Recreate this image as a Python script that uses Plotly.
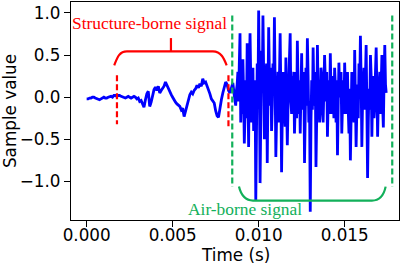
import numpy as np
import plotly.graph_objects as go

# ---- data ----
# structure-borne part, sampled at 12 kHz from t = 0
structure_rate = 12000
structure_samples = [
    -0.02, -0.02, -0.01, -0.01, 0.00, 0.00, -0.01, -0.02, -0.02, -0.03,
    -0.02, -0.01, 0.00, -0.01, -0.01, 0.00, 0.01, 0.01, 0.00, 0.02,
    0.02, 0.01, 0.02, 0.02, 0.01, 0.00, 0.00, -0.01, 0.00, 0.01,
    0.00, -0.01, 0.00, 0.01, 0.00, -0.02, -0.01, -0.05, -0.04, -0.09,
    -0.12, -0.03, 0.04, 0.07, -0.11, -0.06, 0.03, 0.09, 0.12, 0.08,
    0.13, 0.05, 0.08, 0.10, 0.13, 0.18, 0.14, 0.09, 0.05, 0.03,
    0.00, -0.04, -0.06, -0.08, -0.10, -0.11, -0.15, -0.13, -0.23, -0.17,
    -0.08, -0.02, 0.03, 0.06, 0.04, 0.08, 0.10, 0.14, 0.11, 0.16,
    0.13, 0.22, 0.17, 0.18, 0.14, 0.10, 0.04, -0.02, -0.05, -0.07,
    -0.16, -0.22, -0.24, -0.12, -0.03, 0.05, 0.12, 0.18, 0.15, 0.08,
    0.05, 0.13, 0.17,
]
# air-borne part, sampled at 24 kHz, starting right after the structure part
air_rate = 24000
air_start = 0.0085833
air_samples = [
    0.02, -0.06, -0.10, 0.08, 0.15, 0.30, -0.05, 0.40, 0.76, -0.30,
    0.10, -0.20, 0.45, 0.05, -0.55, -0.20, 0.20, -0.25, 0.64, 0.10,
    -0.59, 0.35, 0.76, 0.20, -0.30, 0.15, 0.35, -0.40, -0.15, 0.20,
    -1.23, -0.30, 0.40, -0.10, 1.03, 0.20, -1.02, -0.25, 0.55, 0.10,
    0.97, 0.30, -0.50, 0.05, 0.30, 0.40, -0.78, -0.15, 0.83, 0.25,
    -0.10, 0.35, -0.40, -0.10, 0.40, 0.10, 0.95, 0.15, -0.71, -0.25,
    0.10, 0.30, -0.30, 0.25, 0.76, 0.05, -0.89, -0.20, 0.30, 0.05,
    -0.20, -0.35, 0.47, 0.10, -0.57, -0.10, 0.20, 0.35, 0.76, -0.05,
    -0.20, 0.25, 0.10, 0.30, -0.43, -0.10, 0.30, -0.25, 0.67, 0.15,
    -0.20, 0.20, -0.43, 0.05, 0.52, -0.15, 0.05, 0.30, -0.78, -0.20,
    0.35, -0.10, 0.70, 0.25, -0.30, -0.05, -1.36, -0.30, 0.20, -0.15,
    0.59, 0.10, -0.10, 0.30, -0.83, -0.25, 0.62, 0.05, 0.15, -0.30,
    -0.10, 0.35, 0.25, -0.15, -0.30, 0.10, 0.50, 0.20, -0.05, 0.30,
    -0.47, -0.05, 0.20, -0.20, 0.52, 0.05, -0.20, 0.25, 0.10, -0.25,
    0.35, 0.15, -0.30, 0.20, -0.69, -0.10, 0.41, 0.05, 0.00, 0.30,
    -0.43, -0.10, 0.20, -0.20, 0.41, 0.10, -0.20, 0.25, 0.30, -0.15,
    -0.43, 0.10, -0.75, -0.25, 0.30, 0.05, -0.10, -0.30, 0.56, 0.10,
    -0.59, -0.15, 0.15, -0.25, 0.40, 0.10, 0.73, 0.20, -0.59, -0.05,
    0.20, 0.35, -0.15, 0.20, 0.62, -0.10, -0.96, -0.30, 0.10, -0.15,
    0.50, 0.25, -0.47, 0.05, 0.25, -0.25, -0.10, 0.30, 0.59, 0.10,
    -0.47, -0.05, 0.15, 0.30, -0.20, 0.10, 0.50, -0.10, -0.36, 0.20,
    0.62, 0.15, 0.05,
]
x_tick_vals = [0.000, 0.005, 0.010, 0.015]
x_tick_text = ["0.000", "0.005", "0.010", "0.015"]
y_tick_vals = [1.0, 0.5, 0.0, -0.5, -1.0]
y_tick_text = ["1.0", "0.5", "0.0", "\u22120.5", "\u22121.0"]

times = np.concatenate([
    np.arange(len(structure_samples)) / structure_rate,
    air_start + np.arange(len(air_samples)) / air_rate,
])
values = np.array(structure_samples + air_samples)

RED = "#ff0000"
GREEN = "#12b05a"
AXFONT = "DejaVu Sans"
SERIF = "Liberation Serif"

fig = go.Figure()
fig.add_trace(go.Scatter(x=times, y=values, mode="lines",
                         line=dict(color="#0000ff", width=2.8),
                         hoverinfo="skip", showlegend=False))

dash = "6px,3px"
shapes = [
    # red dashed markers
    dict(type="line", x0=0.001762, x1=0.001762, y0=0.26, y1=-0.32,
         line=dict(color=RED, width=2.2, dash=dash)),
    dict(type="line", x0=0.008244, x1=0.008244, y0=0.26, y1=-0.367,
         line=dict(color=RED, width=2.2, dash=dash)),
    # green dashed markers
    dict(type="line", x0=0.008465, x1=0.008465, y0=0.970, y1=-1.062,
         line=dict(color=GREEN, width=2.2, dash=dash)),
    dict(type="line", x0=0.017767, x1=0.017767, y0=0.970, y1=-1.062,
         line=dict(color=GREEN, width=2.2, dash=dash)),
    # red brace
    dict(type="path",
         path=("M 0.001605,0.3787 C 0.001762,0.4615 0.001878,0.5444 0.002343,0.5444 "
               "L 0.007343,0.5444 C 0.007808,0.5444 0.007983,0.4615 0.008140,0.3787"),
         line=dict(color=RED, width=2.2)),
    dict(type="line", x0=0.004901, x1=0.004901, y0=0.5444, y1=0.7018,
         line=dict(color=RED, width=2.2)),
    # green brace
    dict(type="path",
         path=("M 0.008855,-1.0615 C 0.008971,-1.1598 0.009203,-1.2272 0.009669,-1.2272 "
               "L 0.016587,-1.2272 C 0.017052,-1.2272 0.017285,-1.1598 0.017384,-1.0615"),
         line=dict(color=GREEN, width=2.2)),
]
for s in shapes:
    s.update(xref="x", yref="y", layer="above")
fig.update_layout(shapes=shapes)

fig.add_annotation(x=0.003651, y=0.8757, xref="x", yref="y",
                   text="Structure-borne signal", showarrow=False,
                   font=dict(family=SERIF, size=17.4, color=RED),
                   xanchor="center", yanchor="middle")
fig.add_annotation(x=0.009203, y=-1.3254, xref="x", yref="y",
                   text="Air-borne signal", showarrow=False,
                   font=dict(family=SERIF, size=17.4, color=GREEN),
                   xanchor="center", yanchor="middle")
# x-axis title
fig.add_annotation(x=0.5, y=-0.159, xref="paper", yref="paper",
                   text="Time (s)", showarrow=False, borderpad=0,
                   font=dict(family=AXFONT, size=16.8, color="black"),
                   xanchor="center", yanchor="middle")

axis_common = dict(showline=True, mirror=True, linecolor="black", linewidth=1.3,
                   ticks="outside", ticklen=6, tickwidth=1.3, tickcolor="black",
                   showgrid=False, zeroline=False, automargin=False,
                   tickfont=dict(family=AXFONT, size=16.8, color="black"))

fig.update_xaxes(range=[-0.00091, 0.01816], tickvals=x_tick_vals, ticktext=x_tick_text,
                 ticklabelstandoff=-6, **axis_common)
fig.update_yaxes(range=[-1.458, 1.13], tickvals=y_tick_vals, ticktext=y_tick_text,
                 title=dict(text="Sample value", font=dict(family=AXFONT, size=16.8, color="black"),
                            standoff=4),
                 **axis_common)

fig.update_layout(width=402, height=264,
                  margin=dict(l=71, r=3, t=2, b=43.5),
                  paper_bgcolor="white", plot_bgcolor="white")

fig.write_html("out.html", config={"displayModeBar": False},
               post_script="document.body.style.margin='0';document.body.style.overflow='hidden';")
